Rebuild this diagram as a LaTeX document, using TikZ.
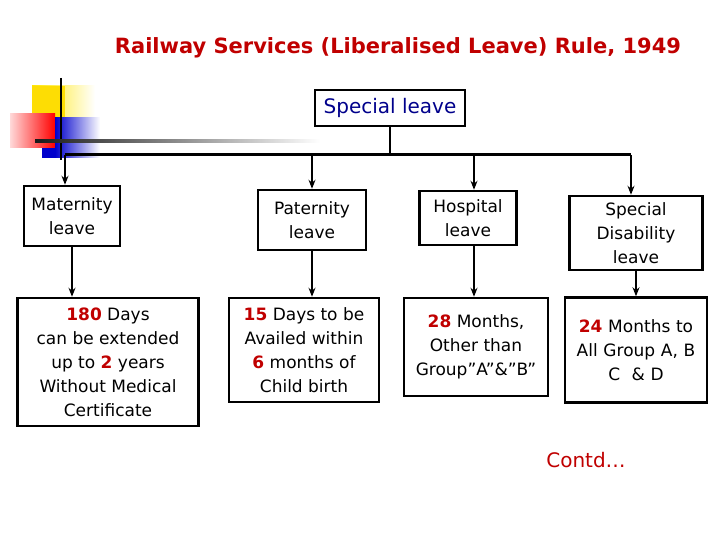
\documentclass[tikz,border=0pt]{standalone}
\usepackage{fontspec}
\setmainfont{DejaVu Sans}
\usetikzlibrary{arrows.meta}
\definecolor{tred}{HTML}{C00000}
\definecolor{num}{HTML}{C00000}
\definecolor{nblue}{HTML}{00008B}
\begin{document}
\begin{tikzpicture}[x=1pt,y=-1pt,
  box/.style={draw,line width=2.5pt,align=center,font=\fontsize{17}{24}\selectfont,inner sep=1pt},
  arr/.style={-{Stealth[length=9pt,width=7pt]},line width=1.2pt}]
\useasboundingbox (0,0) rectangle (720,540);
% decoration
\shade[left color=yellow!80!orange, right color=white] (32,86) rectangle (95,118);
\fill[yellow!80!orange] (32,86) rectangle (65,118);
\shade[left color=red!15, right color=red] (10,114) rectangle (55,148);
\shade[left color=blue!80!black, right color=white] (55,118) rectangle (100,158);
\fill[blue!80!black] (42,148) rectangle (55,158);
\draw[line width=1.5pt] (61,78) -- (61,160);
\shade[left color=black!90, right color=white] (35,140) rectangle (320,142.5);
\node[text=tred,font=\bfseries\fontsize{21}{24}\selectfont] (title) at (398,48) {Railway Services (Liberalised Leave) Rule, 1949};
\node[draw,line width=1.5pt,text=nblue,font=\fontsize{20}{24}\selectfont,minimum width=150pt,minimum height=36pt] (sl) at (390,108) {Special leave};
\coordinate (hl) at (65,155); \coordinate (hr) at (631,155);
\coordinate (hm) at (390,155);
\draw[line width=3pt] (hl) -- (hr);
\draw[line width=1.2pt] (sl) -- (hm);
\node[box,minimum width=96pt,minimum height=60pt] (m) at (72,216) {Maternity\\leave};
\node[box,minimum width=108pt,minimum height=60pt] (p) at (312,220) {Paternity\\leave};
\node[box,minimum width=97pt,minimum height=54pt] (h) at (468,218) {Hospital\\leave};
\node[box,minimum width=133pt,minimum height=74pt] (s) at (636,233) {Special\\Disability\\leave};
\foreach \a/\b in {m/65,p/312,h/474,s/631}{\coordinate (t\a) at (\b,155);}
\draw[arr] (tm) -- (m.north-|tm);
\draw[arr] (tp) -- (p.north-|tp);
\draw[arr] (th) -- (h.north-|th);
\draw[arr] (ts) -- (s.north-|ts);
\node[box,minimum width=181pt,minimum height=128pt] (m2) at (108,362) {\textcolor{num}{\bfseries 180} Days\\can be extended\\up to \textcolor{num}{\bfseries 2} years\\Without Medical\\Certificate};
\node[box,minimum width=150pt,minimum height=104pt] (p2) at (304,350) {\textcolor{num}{\bfseries 15} Days to be\\Availed within\\\textcolor{num}{\bfseries 6} months of\\Child birth};
\node[box,minimum width=144pt,minimum height=98pt] (h2) at (476,347) {\textcolor{num}{\bfseries 28} Months,\\Other than\\Group”A”\&”B”};
\node[box,minimum width=133pt,minimum height=105pt,text width=140pt] (s2) at (636,350) {\textcolor{num}{\bfseries 24} Months to\\All Group A, B\\C \ \& D};
\draw[arr] (m) -- (m2.north-|m);
\draw[arr] (p) -- (p2.north-|p);
\draw[arr] (h.south-|th) -- (h2.north-|th);
\draw[arr] (s) -- (s2.north-|s);
\node[text=tred,font=\fontsize{20}{24}\selectfont] (c) at (586,460) {Contd…};
\end{tikzpicture}
\end{document}
